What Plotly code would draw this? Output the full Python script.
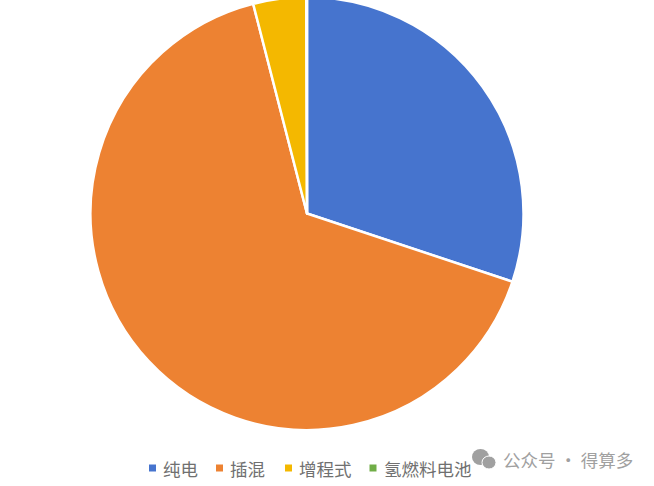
import plotly.graph_objects as go

categories = ["纯电", "插混", "增程式", "氢燃料电池"]
values = [30.1, 65.9, 3.95, 0.05]
colors = ["#4674CE", "#ED8232", "#F4B800", "#70AD47"]
watermark = "公众号 · 得算多"
key_x = [152.5, 219.5, 288.5, 373]
label_x = [162, 229, 298, 383]

W, H = 654, 486
SHIFT = 3                # figure is raised so the pie's top runs off the page, as in the reference
FH = H + SHIFT


def px(x):
    return x / W


def py(y):
    return 1 - (y + SHIFT) / FH


shapes = [
    dict(type="circle", xref="paper", yref="paper", fillcolor="#a0a0a0", line_width=0,
         x0=px(472), x1=px(489), y0=py(465), y1=py(449)),
    dict(type="circle", xref="paper", yref="paper", fillcolor="#a0a0a0",
         line=dict(color="white", width=1),
         x0=px(482), x1=px(496), y0=py(469), y1=py(456)),
]
annotations = [dict(text=watermark, x=px(568), y=py(459), xref="paper", yref="paper",
                    showarrow=False, xanchor="center", yanchor="middle",
                    font=dict(size=17.5, color="#a0a0a0"))]
for name, col, kx, lx in zip(categories, colors, key_x, label_x):
    shapes.append(dict(type="rect", xref="paper", yref="paper", fillcolor=col, line_width=0,
                       x0=px(kx - 3.5), x1=px(kx + 3.5), y0=py(471.5), y1=py(464.5)))
    annotations.append(dict(text=name, x=px(lx), y=py(468), xref="paper", yref="paper",
                            showarrow=False, xanchor="left", yanchor="middle",
                            xshift=-1, font=dict(size=17.5, color="#707070")))

fig = go.Figure(go.Pie(
    labels=categories, values=values, sort=False, direction="clockwise",
    rotation=0, textinfo="none", hoverinfo="label+percent",
    marker=dict(colors=colors, line=dict(color="white", width=2.5)),
    domain=dict(x=[px(85), px(529)], y=[py(430), 1]),
))
fig.update_layout(
    width=W, height=FH, margin=dict(l=0, r=0, t=0, b=0),
    paper_bgcolor="white", showlegend=False,
    font=dict(family="Noto Sans CJK SC", color="#595959"),
    annotations=annotations, shapes=shapes,
)
fig.write_html(
    "out.html",
    config={"displayModeBar": False},
    post_script=f"document.body.style.margin='-{SHIFT}px 0 0 0';"
                "document.body.style.overflow='hidden';",
)
